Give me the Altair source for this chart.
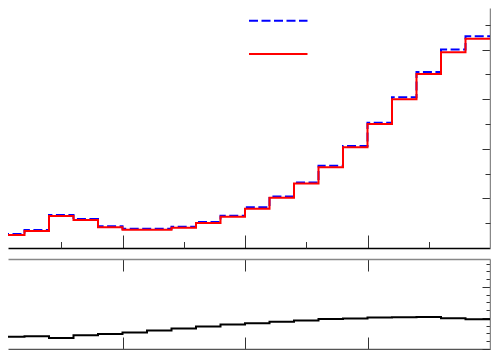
import altair as alt
import pandas as pd

# ---------------- data ----------------
bin_edges = [round(0.2 * i, 1) for i in range(21)]
reference_vals = [0.280, 0.363, 0.665, 0.585, 0.437, 0.389, 0.389, 0.430, 0.524, 0.650,
                  0.820, 1.040, 1.320, 1.660, 2.056, 2.526, 3.040, 3.550, 4.000, 4.270]
model_vals = [0.262, 0.343, 0.645, 0.565, 0.417, 0.369, 0.369, 0.410, 0.504, 0.630,
              0.790, 1.014, 1.300, 1.627, 2.030, 2.500, 3.000, 3.510, 3.945, 4.220]
ratio_vals = [0.9397, 0.9410, 0.9355, 0.9442, 0.9484, 0.9532, 0.9597, 0.9658, 0.9723, 0.9790,
              0.9829, 0.9877, 0.9919, 0.9968, 0.9984, 1.0016, 1.0023, 1.0032, 0.9994, 0.9958]

x_major = [1, 2, 3]
x_minor = [0.5, 1.5, 2.5, 3.5]
top_y_major = [1, 2, 3, 4]
top_y_minor = [0.5, 1.5, 2.5, 3.5, 4.5]
ratio_y_major = [0.9, 1.0, 1.1]
ratio_y_minor = [0.925, 0.95, 0.975, 1.025, 1.05, 1.075, 1.125, 1.15, 1.175]

# ---------------- layout ----------------
W = 482
H_TOP = 240
H_BOT = 90
X_DOMAIN = [8 / 122.5, 4.0]
TOP_Y_DOMAIN = [0, 5 - 8 / 49.6]
BOT_Y_DOMAIN = [0.9, 1.19]
FRAME = "#888888"
TICK = "#333333"


def steps(vals):
    return pd.DataFrame({"i": list(range(21)), "x": bin_edges, "y": vals + [vals[-1]]})


def ax(**kw):
    base = dict(labels=False, title=None, grid=False, tickColor=TICK, tickWidth=1)
    base.update(kw)
    return alt.Axis(**base)


xs = alt.Scale(domain=X_DOMAIN, nice=False, zero=False)
ys_top = alt.Scale(domain=TOP_Y_DOMAIN, nice=False, zero=False)
ys_bot = alt.Scale(domain=BOT_Y_DOMAIN, nice=False, zero=False)

blue = alt.Chart(steps(reference_vals)).mark_line(
    interpolate="step-after", color="#0000ff", strokeWidth=2, strokeDash=[9, 3.5], clip=True
).encode(
    x=alt.X("x:Q", scale=xs, axis=ax(orient="top", offset=-H_TOP, values=x_major, tickSize=13,
                                      domain=True, domainColor="black", domainWidth=1.5)),
    y=alt.Y("y:Q", scale=ys_top, axis=ax(orient="left", offset=-W, values=top_y_major, tickSize=8,
                                          domain=True, domainColor=FRAME, domainWidth=1.5)),
    order="i:Q",
)

red = alt.Chart(steps(model_vals)).mark_line(
    interpolate="step-after", color="#ff0000", strokeWidth=2, clip=True
).encode(
    x=alt.X("x:Q", scale=xs, axis=ax(orient="top", offset=-H_TOP, values=x_minor, tickSize=6.5,
                                      domain=False)),
    y=alt.Y("y:Q", scale=ys_top, axis=ax(orient="left", offset=-W, values=top_y_minor, tickSize=5,
                                          domain=False)),
    order="i:Q",
)

legend_keys = pd.DataFrame({"key": ["reference", "model"]})
leg_blue = alt.Chart(legend_keys.iloc[[0]]).mark_rule(
    color="#0000ff", strokeWidth=2, strokeDash=[9, 3.5]
).encode(x=alt.value(241), x2=alt.value(299.5), y=alt.value(12.7))
leg_red = alt.Chart(legend_keys.iloc[[1]]).mark_rule(
    color="#ff0000", strokeWidth=2
).encode(x=alt.value(241), x2=alt.value(299.5), y=alt.value(46))

top = alt.layer(blue, red, leg_blue, leg_red).resolve_axis(
    x="independent", y="independent"
).properties(width=W, height=H_TOP)

ratio_df = steps(ratio_vals)
ratio = alt.Chart(ratio_df).mark_line(
    interpolate="step-after", color="black", strokeWidth=2, clip=True
).encode(
    x=alt.X("x:Q", scale=xs, axis=ax(orient="top", offset=-H_BOT, values=x_major, tickSize=12,
                                      domain=True, domainColor="#555555", domainWidth=1.5)),
    y=alt.Y("y:Q", scale=ys_bot, axis=ax(orient="left", offset=-W, values=ratio_y_major, tickSize=8,
                                          domain=True, domainColor=FRAME, domainWidth=1.5)),
    order="i:Q",
)
ratio_axes = alt.Chart(ratio_df).mark_line(
    interpolate="step-after", opacity=0, clip=True
).encode(
    x=alt.X("x:Q", scale=xs, axis=ax(orient="bottom", offset=-H_BOT, values=x_major, tickSize=12,
                                      domain=True, domainColor=FRAME, domainWidth=1.5)),
    y=alt.Y("y:Q", scale=ys_bot, axis=ax(orient="left", offset=-W, values=ratio_y_minor, tickSize=4,
                                          domain=False)),
    order="i:Q",
)

bottom = alt.layer(ratio_axes, ratio).resolve_axis(
    x="independent", y="independent"
).properties(width=W, height=H_BOT)

chart = alt.vconcat(top, bottom, spacing=11, bounds="flush").properties(
    padding=0
).configure_view(strokeWidth=0)

chart.save("out.html", embed_options={"renderer": "svg", "actions": False})
